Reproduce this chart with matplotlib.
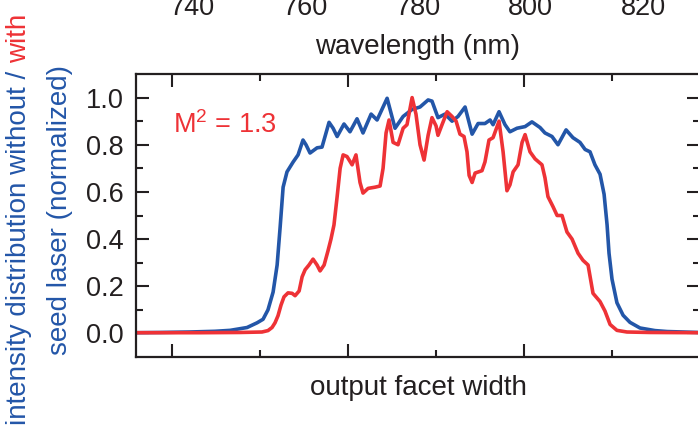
import numpy as np
import matplotlib
matplotlib.use('Agg')
import matplotlib.pyplot as plt

plt.rcParams['font.family'] = ['Liberation Sans', 'DejaVu Sans']
plt.rcParams['mathtext.fontset'] = 'custom'
plt.rcParams['mathtext.rm'] = 'Liberation Sans'
plt.rcParams['mathtext.it'] = 'Liberation Sans:italic'

blue = '#2356a8'
red = '#ee3236'
dark = '#231f20'

# wavelength ticks of the panel above (cut off)
wl_ticks = [740, 760, 780, 800, 820]

# without seed laser (blue)
x_wo = [-20.5, -6.8, 10.2, 24.4, 33.0, 42.6, 48.3, 51.7, 54.5, 57.4, 59.7, 61.4, 63.1, 65.3,
        68.8, 71.6, 74.4, 76.1, 78.4, 82.4, 85.2, 89.2, 91.5, 93.8, 97.7, 101.1, 105.1,
        108.5, 113.1, 116.5, 122.2, 126.7, 131.3, 136.4, 140.9, 145.5, 147.7, 151.1,
        155.1, 159.1, 162.5, 166.5, 170.5, 173.9, 177.8, 180.7, 182.4, 185.8, 189.2,
        192.0, 196.0, 200.6, 204.5, 209.1, 211.9, 215.9, 219.3, 223.9, 227.8, 231.8,
        234.7, 237.5, 240.3, 243.2, 245.5, 247.2, 248.3, 250.0, 252.8, 256.3, 260.2,
        265.9, 274.4, 281.3, 298.9]
y_wo = [0.003, 0.004, 0.006, 0.009, 0.013, 0.025, 0.045, 0.06, 0.10, 0.175, 0.29, 0.45, 0.62, 0.685,
        0.727, 0.757, 0.82, 0.80, 0.765, 0.787, 0.79, 0.895, 0.87, 0.835, 0.888, 0.855, 0.91,
        0.85, 0.93, 0.905, 0.997, 0.87, 0.92, 0.95, 0.96, 0.99, 0.985, 0.915,
        0.93, 0.90, 0.92, 0.96, 0.845, 0.89, 0.89, 0.905, 0.885, 0.94, 0.885,
        0.855, 0.87, 0.877, 0.897, 0.873, 0.85, 0.835, 0.80, 0.863, 0.83, 0.81,
        0.78, 0.77, 0.715, 0.675, 0.59, 0.46, 0.34, 0.23, 0.13, 0.077, 0.047,
        0.023, 0.012, 0.008, 0.004]

# with seed laser (red)
x_w = [-20.5, 15.9, 38.6, 51.1, 54.5, 56.8, 58.5, 60.2, 61.9, 63.6, 65.9, 68.2, 69.9, 72.2,
       73.9, 75.6, 77.8, 80.1, 82.4, 84.1, 86.4, 88.6, 90.3, 92.0, 93.8, 95.5, 97.2,
       99.4, 102.3, 104.5, 106.8, 108.5, 111.4, 115.3, 118.2, 119.9, 121.6, 123.3,
       125.6, 128.4, 131.3, 133.5, 136.4, 138.6, 140.9, 143.2, 145.5, 147.7, 150.0,
       151.1, 153.4, 156.3, 159.1, 161.4, 163.6, 165.9, 167.6, 168.8, 170.5, 172.2,
       176.1, 177.8, 180.1, 182.4, 185.8, 188.1, 190.3, 192.0, 193.8, 196.6, 198.9,
       200.6, 203.4, 206.3, 210.2, 211.9, 213.6, 216.5, 218.8, 221.6, 224.4, 227.3,
       230.7, 233.5, 236.4, 239.2, 243.2, 246.0, 248.9, 252.8, 258.5, 271.6, 298.9]
y_w = [0.003, 0.003, 0.004, 0.006, 0.012, 0.025, 0.045, 0.075, 0.12, 0.155, 0.172, 0.17, 0.16, 0.18,
       0.24, 0.27, 0.29, 0.315, 0.29, 0.265, 0.29, 0.35, 0.40, 0.46, 0.58, 0.70, 0.757,
       0.75, 0.715, 0.757, 0.64, 0.595, 0.615, 0.62, 0.625, 0.70, 0.85, 0.905,
       0.81, 0.80, 0.87, 0.885, 1.0, 0.93, 0.80, 0.735, 0.84, 0.915, 0.88,
       0.84, 0.885, 0.94, 0.92, 0.90, 0.845, 0.835, 0.77, 0.67, 0.64, 0.68,
       0.69, 0.727, 0.82, 0.83, 0.90, 0.77, 0.605, 0.63, 0.685, 0.715, 0.81,
       0.843, 0.77, 0.74, 0.715, 0.66, 0.58, 0.537, 0.50, 0.50, 0.43, 0.40,
       0.34, 0.31, 0.29, 0.17, 0.135, 0.095, 0.038, 0.013, 0.006, 0.004, 0.003]

fig = plt.figure(figsize=(6.98, 4.26), dpi=100)
W, H = 698.0, 426.0
ax = fig.add_axes([136 / W, (H - 357) / H, 564 / W, 283 / H])

ax.plot(x_wo, y_wo, color=blue, lw=2.6, solid_joinstyle='round')
ax.plot(x_w, y_w, color=red, lw=2.6, solid_joinstyle='round')

ax.set_xlim(-20.5, 300)
ax.set_ylim(-0.1, 1.1)
ax.set_xticks([0, 100, 200, 300])
ax.set_xticks([50, 150, 250], minor=True)
ax.set_yticks(np.arange(0, 1.01, 0.2))
ax.set_yticks(np.arange(0.1, 1.0, 0.2), minor=True)
ax.set_xticklabels([])
ax.set_yticklabels(['%.1f' % v for v in np.arange(0, 1.01, 0.2)])
ax.tick_params(which='both', direction='in', top=True, right=True, width=1.5, color=dark,
               labelsize=19.5, labelcolor=dark, pad=9)
ax.tick_params(which='major', length=9.5)
ax.tick_params(which='minor', length=5)
for s in ax.spines.values():
    s.set_linewidth(1.6)
    s.set_color(dark)

ax.set_xlabel('output facet width', fontsize=20, color=dark, labelpad=4)

ax.text(37 / 564, (357 - 133) / 283, 'M$^2$ = 1.3', transform=ax.transAxes,
        color=red, fontsize=19.5, va='baseline', ha='left')

# cut-off panel above: only its wavelength axis shows
ax_top = fig.add_axes([136 / W, 1 + 5 / H, 564 / W, 0.1])
ax_top.set_xlim(730, 830)
ax_top.set_xticks(wl_ticks)
ax_top.set_yticks([])
ax_top.patch.set_visible(False)
for s in ax_top.spines.values():
    s.set_visible(False)
ax_top.tick_params(length=0, pad=0, labelsize=19.5, labelcolor=dark)
ax_top.set_xlabel('wavelength (nm)', fontsize=20, color=dark, labelpad=9)

# two-coloured y label
t1 = fig.text(26 / W, 1 / H, 'intensity distribution without /', color=blue, fontsize=20,
              rotation=90, rotation_mode='anchor', ha='left', va='baseline')
fig.canvas.draw()
bb = t1.get_window_extent(fig.canvas.get_renderer())
fig.text(26 / W, (bb.y1 + 8) / H, 'with', color=red, fontsize=20,
         rotation=90, rotation_mode='anchor', ha='left', va='baseline')
fig.text(67 / W, (H - 210) / H, 'seed laser (normalized)', color=blue, fontsize=20,
         rotation=90, rotation_mode='anchor', ha='center', va='baseline')

fig.savefig('out.png', dpi=100)
